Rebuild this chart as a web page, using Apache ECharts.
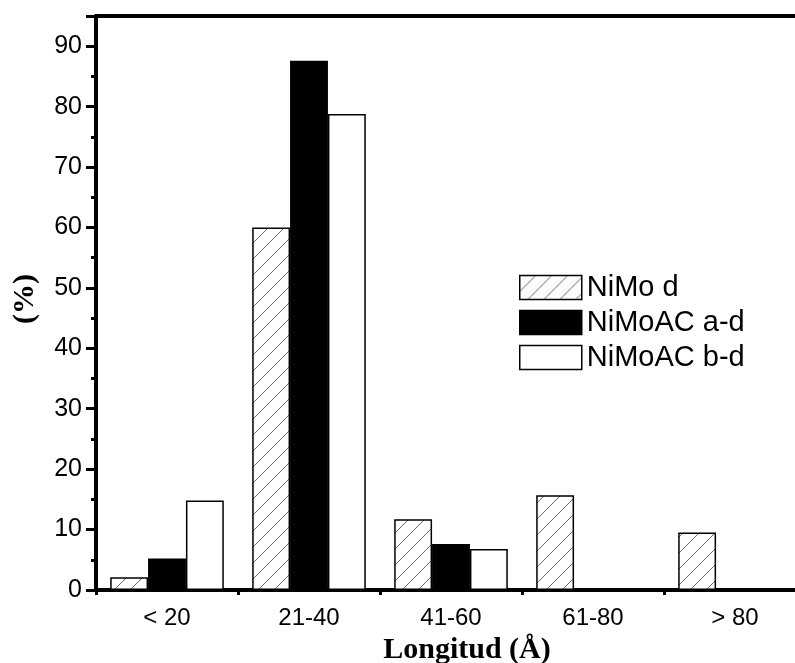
<!DOCTYPE html>
<html>
<head>
<meta charset="utf-8">
<script src="https://cdn.jsdelivr.net/npm/echarts@6/dist/echarts.min.js"></script>
<style>html,body{margin:0;padding:0;background:#fff}#c{width:795px;height:663px}</style>
</head>
<body>
<div id="c"></div>
<script>
var categories = ['< 20', '21-40', '41-60', '61-80', '> 80'];
var seriesNames = ['NiMo d', 'NiMoAC a-d', 'NiMoAC b-d'];
var nimoD = [2.1, 60, 11.7, 15.7, 9.5];
var nimoACad = [5.2, 87.6, 7.6, 0, 0];
var nimoACbd = [14.8, 78.8, 6.8, 0, 0];
var yTicks = [0, 10, 20, 30, 40, 50, 60, 70, 80, 90];

function hatch() {
  var s = 16;
  var cv = document.createElement('canvas');
  cv.width = s; cv.height = s;
  var ctx = cv.getContext('2d');
  ctx.fillStyle = '#fdfdfd';
  ctx.fillRect(0, 0, s, s);
  ctx.strokeStyle = '#6a6a6a';
  ctx.lineWidth = 1;
  ctx.beginPath();
  ctx.moveTo(-2, s + 2); ctx.lineTo(s + 2, -2);
  ctx.moveTo(-2, 2); ctx.lineTo(2, -2);
  ctx.moveTo(s - 2, s + 2); ctx.lineTo(s + 2, s - 2);
  ctx.stroke();
  return { image: cv, repeat: 'repeat' };
}

var chart = echarts.init(document.getElementById('c'), null, { renderer: 'canvas' });
var font = 'Liberation Sans';
var border = { borderColor: '#000', borderWidth: 1.5 };
chart.setOption({
  animation: false,
  backgroundColor: '#fff',
  grid: { left: 96, top: 16, width: 710, height: 574, containLabel: false, outerBoundsMode: 'none' },
  legend: {
    orient: 'vertical', left: 514, top: 268,
    itemWidth: 62, itemHeight: 24, itemGap: 6, icon: 'rect',
    textStyle: { fontFamily: font, fontSize: 29, color: '#000' },
    itemStyle: { borderColor: '#000', borderWidth: 1.5 },
    data: seriesNames
  },
  xAxis: [{
    type: 'category', data: categories, position: 'bottom',
    axisLine: { lineStyle: { color: '#000', width: 4 } },
    axisTick: { show: true, length: 5, lineStyle: { color: '#000', width: 3 } },
    axisLabel: { fontFamily: font, fontSize: 24, color: '#000', margin: 16 },
    name: 'Longitud (Å)', nameLocation: 'middle', nameGap: 37,
    nameTextStyle: { fontFamily: 'Liberation Serif', fontWeight: 'bold', fontSize: 30, color: '#000', padding: [0, 0, 0, 32] }
  }, {
    type: 'category', data: categories, position: 'top',
    axisLine: { lineStyle: { color: '#000', width: 4 } },
    axisTick: { show: false }, axisLabel: { show: false }
  }],
  yAxis: {
    type: 'value', min: 0, max: 95, interval: 10,
    axisLine: { show: true, lineStyle: { color: '#000', width: 4 } },
    axisTick: { show: true, length: 10, lineStyle: { color: '#000', width: 3 } },
    minorTick: { show: true, splitNumber: 2, length: 5, lineStyle: { color: '#000', width: 3 } },
    splitLine: { show: false },
    axisLabel: { fontFamily: font, fontSize: 25, color: '#000', margin: 14, showMaxLabel: false,
      formatter: function (v) { return yTicks.indexOf(v) >= 0 ? String(v) : ''; } },
    name: '(%)', nameLocation: 'middle', nameGap: 56,
    nameTextStyle: { fontFamily: 'Liberation Serif', fontWeight: 'bold', fontSize: 30, color: '#000', padding: [0, 0, 0, 8] }
  },
  series: [
    { name: seriesNames[0], type: 'bar', data: nimoD, barGap: '0%', barCategoryGap: '20%',
      itemStyle: Object.assign({ color: hatch() }, border) },
    { name: seriesNames[1], type: 'bar', data: nimoACad,
      itemStyle: Object.assign({ color: '#000' }, border) },
    { name: seriesNames[2], type: 'bar', data: nimoACbd,
      itemStyle: Object.assign({ color: '#fff' }, border) }
  ]
});
</script>
</body>
</html>
